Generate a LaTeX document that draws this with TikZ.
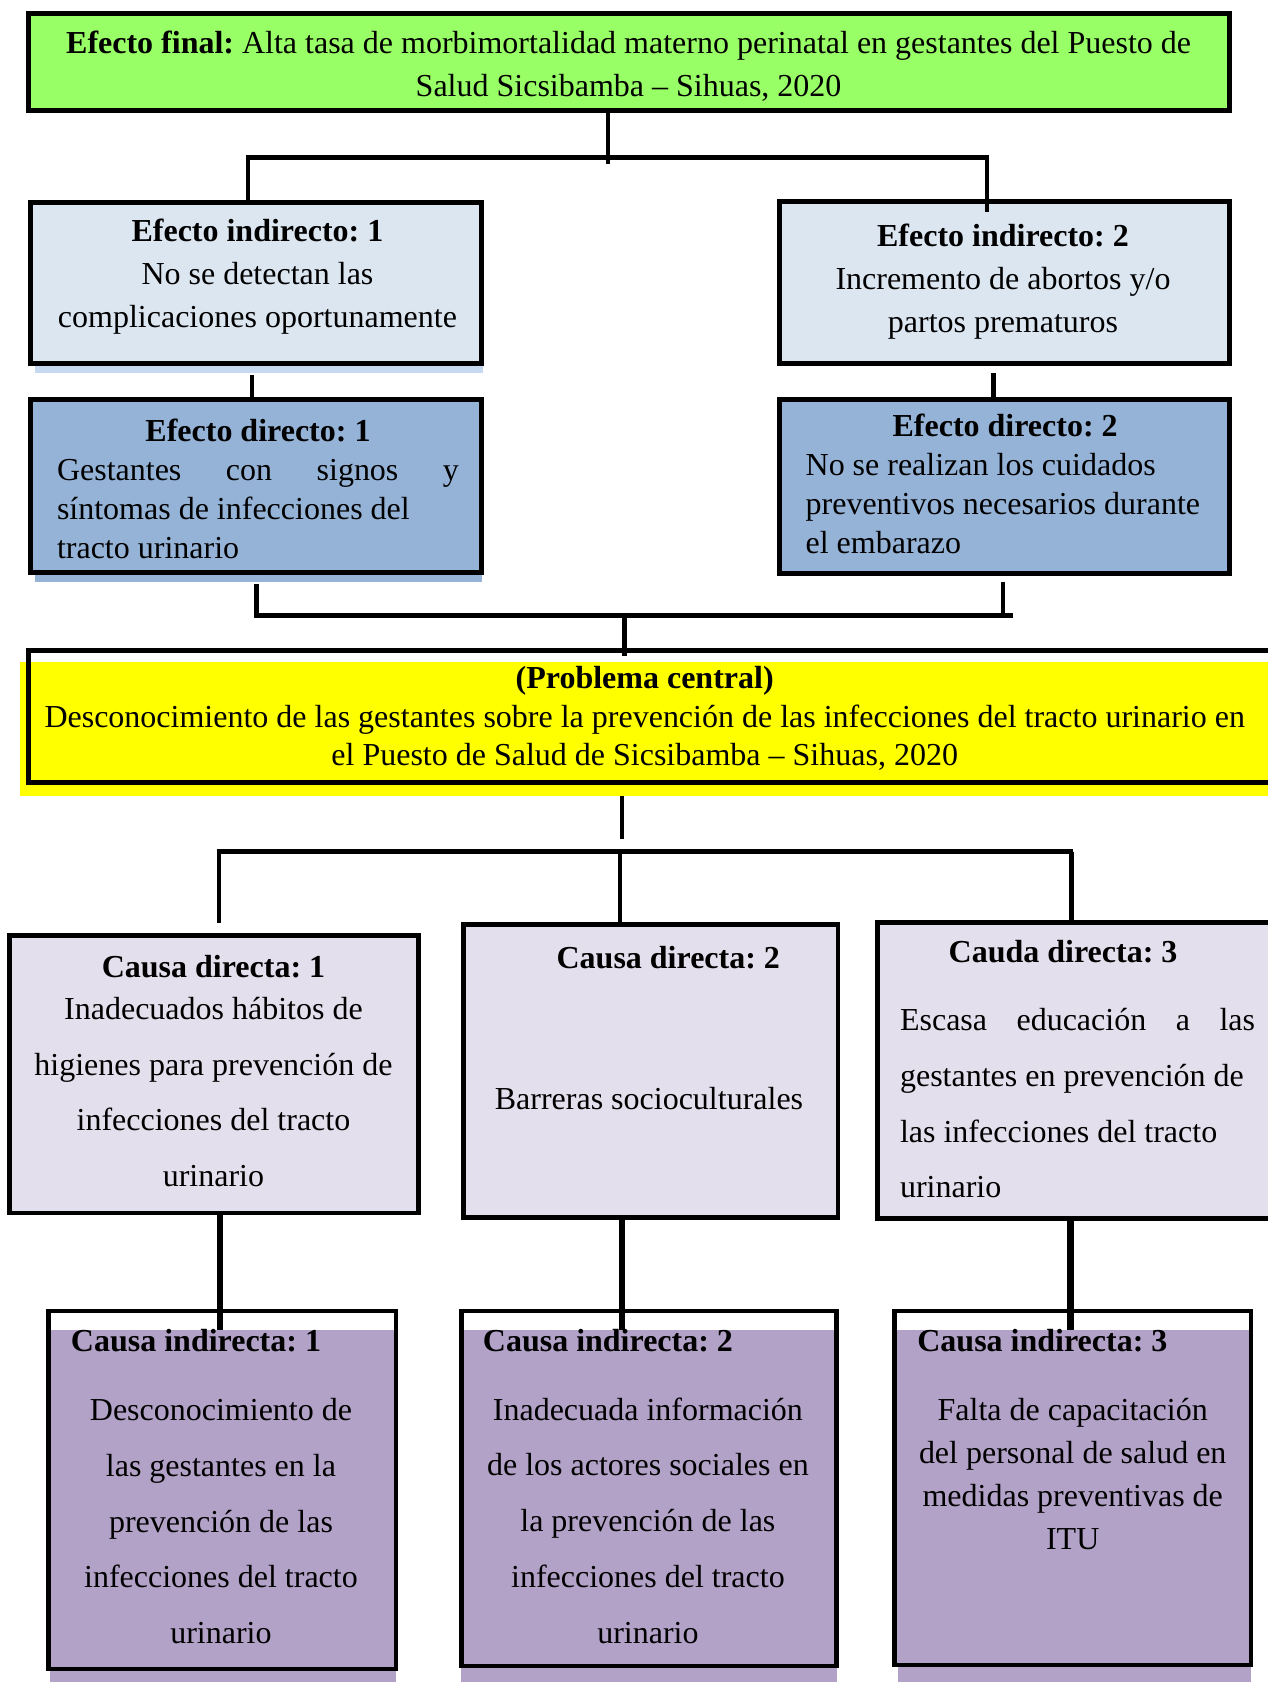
\documentclass[tikz,border=0pt]{standalone}
\usepackage{fontspec}
\setmainfont{Liberation Serif}
\frenchspacing
\usetikzlibrary{fit,calc}
\definecolor{cgreen}{RGB}{153,255,102}
\definecolor{cei}{RGB}{220,230,241}
\definecolor{ceish}{RGB}{198,217,241}
\definecolor{ced}{RGB}{149,179,215}
\definecolor{cyel}{RGB}{255,255,0}
\definecolor{ccd}{RGB}{228,223,236}
\definecolor{cci}{RGB}{179,162,199}
\begin{document}
\begin{tikzpicture}[x=1.0728pt,y=-1.0728pt,
  box/.style={draw=black, line width=5pt, inner sep=0pt},
  conn/.style={draw=black, line width=4.5pt},
  thickconn/.style={draw=black, line width=6.5pt},
  txt/.style={inner sep=0pt, align=center, font=\fontsize{32}{43}\selectfont\frenchspacing},
  txtmid/.style={inner sep=0pt, font=\fontsize{32}{39}\selectfont\frenchspacing},
  txtwide/.style={inner sep=0pt, align=center, font=\fontsize{32}{55.8}\selectfont\frenchspacing},
  head/.style={inner sep=0pt, font=\fontsize{32}{43}\selectfont\bfseries\frenchspacing}]
\useasboundingbox (0,0) rectangle (1182,1568);
% background fills and shadows
\fill[ceish] (33,340) rectangle (450,348);
\fill[ced] (33,534) rectangle (449,543);
\node[fill=cyel, inner sep=0pt, fit={(19,617) (1190,742)}] (probfill) {};
\fill[cci] (45,1240) rectangle (369,1556);
\fill[cci] (47,1556) rectangle (369,1568);
\fill[cci] (430,1240) rectangle (780,1553);
\fill[cci] (430,1553) rectangle (780,1568);
\fill[cci] (834,1240) rectangle (1166,1552);
\fill[cci] (837,1552) rectangle (1166,1568);
% boxes
\node[box, fill=cgreen, fit={(27,13) (1146,103)}] (top) {};
\node[box, fill=cei, fit={(28,189) (449,339)}] (ei1) {};
\node[box, fill=cei, fit={(727,188) (1146,339)}] (ei2) {};
\node[box, fill=ced, fit={(28,372) (449,534)}] (ed1) {};
\node[box, fill=ced, fit={(727,372) (1146,535)}] (ed2) {};
\node[box, fit={(27,606) (1195,729)}] (prob) {};
\node[box, line width=4.5pt, fill=ccd, fit={(9,872) (390,1131)}] (cd1) {};
\node[box, line width=4.5pt, fill=ccd, fit={(432,862) (781,1135)}] (cd2) {};
\node[box, line width=4.5pt, fill=ccd, fit={(818,860) (1195,1136)}] (cd3) {};
\node[box, line width=4.5pt, fit={(45,1222) (369,1556)}] (ci1) {};
\node[box, line width=4.5pt, fit={(430,1222) (780,1553)}] (ci2) {};
\node[box, line width=4.5pt, fit={(834,1222) (1166,1552)}] (ci3) {};
% junction coordinates
\coordinate (a1) at (567,147);
\coordinate (aL) at (231,147);
\coordinate (aR) at (920,147);
\coordinate (b1) at (235,350);
\coordinate (b2) at (926,348);
\coordinate (cL) at (239,574);
\coordinate (cR) at (944,574);
\coordinate (cR2) at (935,574);
\coordinate (cM) at (582,571);
\coordinate (dM) at (580,782);
\coordinate (dL) at (202,794);
\coordinate (dR) at (1000,794);
\coordinate (e1) at (204,794);
\coordinate (e1b) at (204,860);
\coordinate (e2) at (578,794);
\coordinate (e3) at (999,794);
\coordinate (f1) at (205,1240);
\coordinate (f2) at (580,1240);
\coordinate (f3) at (998,1240);
% connectors
\draw[conn] (top.south -| a1) -- (a1) -- ++(0,6);
\draw[conn] (ei1.north -| aL) -- (aL) -- (aR) -- (ei2.north -| aR) -- ++(0,12);
\draw[conn] (b1) -- (ed1.north -| b1);
\draw[conn] (b2) -- (ed2.north -| b2);
\draw[conn] (ed1.south -| cL) ++(0,8) -- (cL) -- (cR);
\draw[conn] (ed2.south -| cR2) ++(0,5) -- (cR2);
\draw[conn] (cM) -- (prob.north -| cM) -- ++(0,8);
\draw[conn] (probfill.south -| dM) -- (dM);
\draw[conn] (dL) -- (dR);
\draw[conn] (e1) -- (e1b);
\draw[conn] (e2) -- (cd2.north -| e2);
\draw[conn] (e3) -- (cd3.north -| e3);
\draw[thickconn] (cd1.south -| f1) ++(0,-3) -- (f1);
\draw[thickconn] (cd2.south -| f2) ++(0,-3) -- (f2);
\draw[thickconn] (cd3.south -| f3) ++(0,-3) -- (f3);
% texts
\node[txt] (tTop) at (586,62) {\textbf{Efecto final:} Alta tasa de morbimortalidad materno perinatal en gestantes del Puesto de\\Salud Sicsibamba – Sihuas, 2020};
\node[txt] (tEI1) at (240,258) {\textbf{Efecto indirecto: 1}\\No se detectan las\\complicaciones oportunamente};
\node[txt] (tEI2) at (935,263) {\textbf{Efecto indirecto: 2}\\Incremento de abortos y/o\\partos prematuros};
\node[txtmid, align=left] (tED1) at (240.5,455.5) {\makebox[402pt]{\textbf{Efecto directo: 1}}\\\makebox[402pt][s]{Gestantes con signos y}\\síntomas de infecciones del\\tracto urinario};
\node[txtmid, align=left] (tED2) at (937,451.5) {\makebox[399pt]{\textbf{Efecto directo: 2}}\\No se realizan los cuidados\\preventivos necesarios durante\\el embarazo};
\node[inner sep=0pt, align=center, font=\fontsize{32}{38.6}\selectfont\frenchspacing] (tProb) at (601,670) {\textbf{(Problema central)}\\Desconocimiento de las gestantes sobre la prevención de las infecciones del tracto urinario en\\el Puesto de Salud de Sicsibamba – Sihuas, 2020};
\node[head] (hCD1) at (199,901) {Causa directa: 1};
\node[txtwide] (tCD1) at (199,1018) {Inadecuados hábitos de\\higienes para prevención de\\infecciones del tracto\\urinario};
\node[head] (hCD2) at (623,893) {Causa directa: 2};
\node[txt] (tCD2) at (605,1024) {Barreras socioculturales};
\node[head] (hCD3) at (991,887) {Cauda directa: 3};
\node[txtwide, align=left] (tCD3) at (1004.5,1028.5) {\makebox[355pt][s]{Escasa educación a las}\\gestantes en prevención de\\las infecciones del tracto\\urinario};
\node[head, anchor=west] (hCI1) at (66,1250) {Causa indirecta: 1};
\node[txtwide] (tCI1) at (206,1418) {Desconocimiento de\\las gestantes en la\\prevención de las\\infecciones del tracto\\urinario};
\node[head, anchor=west] (hCI2) at (450,1250) {Causa indirecta: 2};
\node[txtwide] (tCI2) at (604,1417.5) {Inadecuada información\\de los actores sociales en\\la prevención de las\\infecciones del tracto\\urinario};
\node[head, anchor=west] (hCI3) at (855,1250) {Causa indirecta: 3};
\node[txt] (tCI3) at (1000,1374) {Falta de capacitación\\del personal de salud en\\medidas preventivas de\\ITU};
\end{tikzpicture}
\end{document}
